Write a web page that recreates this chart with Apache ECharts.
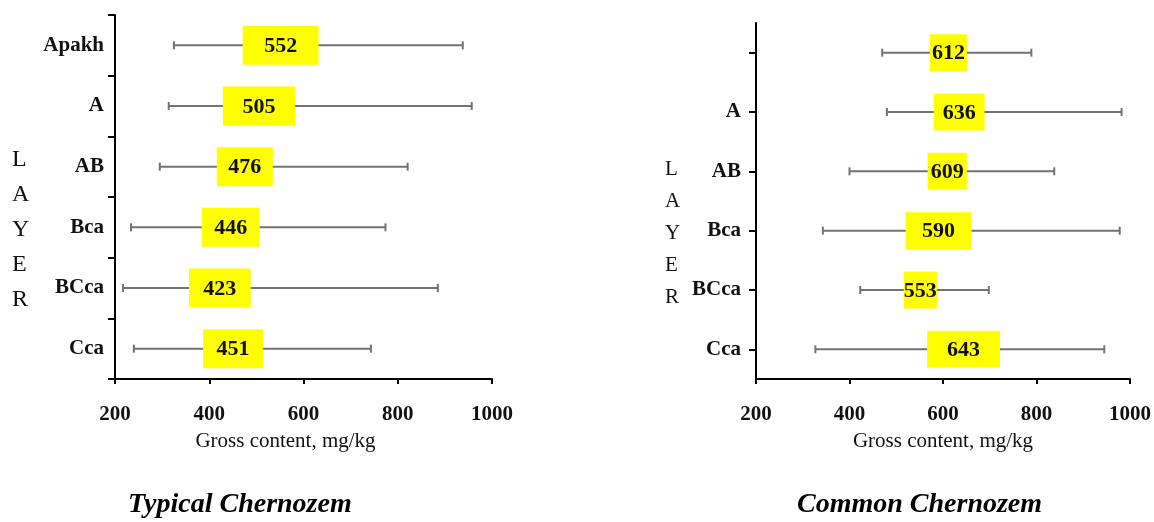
<!DOCTYPE html>
<html>
<head>
<meta charset="utf-8">
<script src="https://cdn.jsdelivr.net/npm/echarts@6/dist/echarts.min.js"></script>
<style>
  html, body { margin: 0; padding: 0; background: #fff; }
  #chart { width: 1154px; height: 522px; }
</style>
</head>
<body>
<div id="chart"></div>
<script>
// Typical Chernozem
var typicalLayers = ['Apakh', 'A', 'AB', 'Bca', 'BCca', 'Cca'];
var typicalMean   = [552, 505, 476, 446, 423, 451];
var typicalMin    = [325, 314, 295, 234, 217, 240];
var typicalMax    = [938, 957, 821, 774, 885, 743];
var typicalLow    = [471, 429, 416, 384, 357, 387];
var typicalHigh   = [632, 582, 535, 507, 488, 514];

// Common Chernozem (top layer has no label)
var commonLayers = ['', 'A', 'AB', 'Bca', 'BCca', 'Cca'];
var commonMean   = [612, 636, 609, 590, 553, 643];
var commonMin    = [470, 480, 400, 343, 423, 327];
var commonMax    = [789, 982, 838, 978, 698, 945];
var commonLow    = [572, 580, 567, 520, 516, 566];
var commonHigh   = [651, 689, 651, 661, 587, 722];

var xTicks = [200, 400, 600, 800, 1000];

var serif = '"Liberation Serif", "Times New Roman", serif';

function rows(mean, mn, mx, lo, hi) {
    return mean.map(function (m, i) {
        return [i, mn[i], mx[i], lo[i], hi[i], m];
    });
}

function rangeItem(boxH) {
    return function (params, api) {
        var cat = api.value(0);
        var pMin = api.coord([api.value(1), cat]);
        var pMax = api.coord([api.value(2), cat]);
        var pLo = api.coord([api.value(3), cat]);
        var pHi = api.coord([api.value(4), cat]);
        var y = pMin[1];
        var cap = 4;
        var line = { stroke: '#737373', lineWidth: 2 };
        return {
            type: 'group',
            children: [
                { type: 'line', shape: { x1: pMin[0], y1: y, x2: pMax[0], y2: y }, style: line },
                { type: 'line', shape: { x1: pMin[0], y1: y - cap, x2: pMin[0], y2: y + cap }, style: line },
                { type: 'line', shape: { x1: pMax[0], y1: y - cap, x2: pMax[0], y2: y + cap }, style: line },
                { type: 'rect', shape: { x: pLo[0], y: y - boxH / 2, width: pHi[0] - pLo[0], height: boxH },
                  style: { fill: '#ffff00' }, z2: 5 },
                { type: 'text', z2: 10,
                  style: { text: String(api.value(5)), x: (pLo[0] + pHi[0]) / 2, y: y + 1,
                           align: 'center', verticalAlign: 'middle',
                           font: 'bold 22px ' + serif, fill: '#111' } }
            ]
        };
    };
}

function xAxisFor(gridIndex, namePad) {
    return {
        type: 'value', gridIndex: gridIndex,
        min: xTicks[0], max: xTicks[xTicks.length - 1], interval: 200,
        name: 'Gross content, mg/kg', nameLocation: 'middle', nameGap: 52,
        nameTextStyle: { fontFamily: serif, fontSize: 21, color: '#111', padding: namePad },
        axisLine: { show: true, lineStyle: { color: '#000', width: 2 } },
        axisTick: { show: true, length: 5, lineStyle: { color: '#000', width: 2 } },
        axisLabel: { margin: 25, fontFamily: serif, fontWeight: 'bold', fontSize: 21, color: '#111',
                     formatter: function (v) { return String(v); } },
        splitLine: { show: false }
    };
}

function yAxisFor(gridIndex, layers, alignTicks, margin) {
    return {
        type: 'category', gridIndex: gridIndex, data: layers, inverse: true,
        axisLine: { show: true, lineStyle: { color: '#000', width: 2 } },
        axisTick: { show: true, length: 7, alignWithLabel: alignTicks, lineStyle: { color: '#000', width: 2 } },
        axisLabel: { margin: margin, fontFamily: serif, fontWeight: 'bold', fontSize: 21, color: '#111' },
        splitLine: { show: false }
    };
}

var option = {
    backgroundColor: '#fff',
    animation: false,
    grid: [
        { left: 115, top: 15, width: 377, bottom: 143 },
        { left: 756, top: 23, width: 375, bottom: 143 }
    ],
    xAxis: [xAxisFor(0, [0, 36, 0, 0]), xAxisFor(1, [0, 0, 0, 0])],
    yAxis: [yAxisFor(0, typicalLayers, false, 11), yAxisFor(1, commonLayers, true, 15)],
    graphic: [
        { type: 'text', left: 12, top: 142,
          style: { text: 'L\nA\nY\nE\nR', font: '24px ' + serif, lineHeight: 35, align: 'center', fill: '#111' } },
        { type: 'text', left: 665, top: 153,
          style: { text: 'L\nA\nY\nE\nR', font: '21px ' + serif, lineHeight: 32, align: 'center', fill: '#111' } },
        { type: 'text', left: 128, top: 491,
          style: { text: 'Typical Chernozem', font: 'italic bold 28px ' + serif, fill: '#000' } },
        { type: 'text', left: 797, top: 491,
          style: { text: 'Common Chernozem', font: 'italic bold 28px ' + serif, fill: '#000' } }
    ],
    series: [
        {
            name: 'Typical Chernozem', type: 'custom', xAxisIndex: 0, yAxisIndex: 0,
            renderItem: rangeItem(39),
            encode: { x: [1, 2, 3, 4], y: 0 },
            data: rows(typicalMean, typicalMin, typicalMax, typicalLow, typicalHigh)
        },
        {
            name: 'Common Chernozem', type: 'custom', xAxisIndex: 1, yAxisIndex: 1,
            renderItem: rangeItem(37),
            encode: { x: [1, 2, 3, 4], y: 0 },
            data: rows(commonMean, commonMin, commonMax, commonLow, commonHigh)
        }
    ]
};

var chart = echarts.init(document.getElementById('chart'));
chart.setOption(option);
</script>
</body>
</html>
